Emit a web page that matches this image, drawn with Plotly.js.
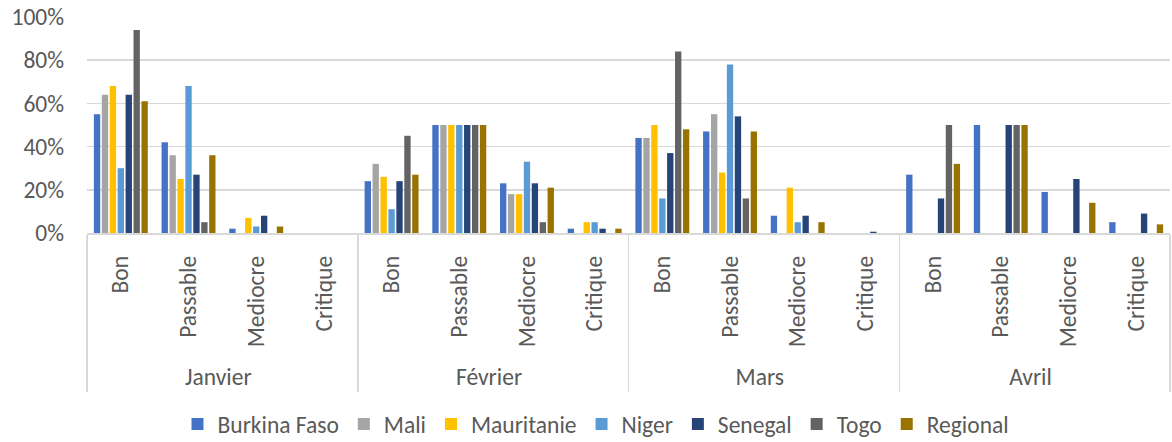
<!DOCTYPE html>
<html>
<head>
<meta charset="utf-8">
<script src="https://cdn.plot.ly/plotly-3.0.1.min.js"></script>
<style>html,body{margin:0;padding:0;background:#fff;}#chart{width:1172px;height:442px;}</style>
</head>
<body>
<div id="chart"></div>
<script>
const months = ["Janvier", "Février", "Mars", "Avril"];
const conditions = ["Bon", "Passable", "Mediocre", "Critique"];
const seriesNames = ["Burkina Faso", "Mali", "Mauritanie", "Niger", "Senegal", "Togo", "Regional"];
const burkinaFaso = [55, 42, 2, 0, 24, 50, 23, 2, 44, 47, 8, 0, 27, 50, 19, 5];
const mali = [64, 36, 0, 0, 32, 50, 18, 0, 44, 55, 0, 0, 0, 0, 0, 0];
const mauritanie = [68, 25, 7, 0, 26, 50, 18, 5, 50, 28, 21, 0, 0, 0, 0, 0];
const niger = [30, 68, 3, 0, 11, 50, 33, 5, 16, 78, 5, 0, 0, 0, 0, 0];
const senegal = [64, 27, 8, 0, 24, 50, 23, 2, 37, 54, 8, 0.6, 16, 50, 25, 9];
const togo = [94, 5, 0, 0, 45, 50, 5, 0, 84, 16, 0, 0, 50, 50, 0, 0];
const regional = [61, 36, 3, 0, 27, 50, 21, 2, 48, 47, 5, 0, 32, 50, 14, 4];
const yTickValues = [0, 20, 40, 60, 80, 100];
const yTickLabels = ["0%", "20%", "40%", "60%", "80%", "100%"];
const colors = ["#4472C4", "#A5A5A5", "#FFC000", "#5B9BD5", "#264478", "#636363", "#997300"];

const allSeries = [burkinaFaso, mali, mauritanie, niger, senegal, togo, regional];
// a leading non-breaking space only extends the rotated label box downward (spacing)
const pad = "\u00a0";
const outer = [], inner = [];
months.forEach(m => conditions.forEach(c => { outer.push(m); inner.push(pad + c); }));

const font = {family: "Carlito, Lato, sans-serif", size: 23.5, color: "#595959"};

const data = allSeries.map((vals, i) => ({
  type: "bar",
  name: seriesNames[i],
  x: [outer, inner],
  y: vals,
  marker: {color: colors[i]},
  hovertemplate: "%{y}%<extra>" + seriesNames[i] + "</extra>"
}));

const layout = {
  width: 1172, height: 442,
  margin: {l: 87, r: 2, t: 17, b: 209, autoexpand: false},
  paper_bgcolor: "#fff", plot_bgcolor: "#fff",
  font: font,
  barmode: "group",
  bargap: 0.18,
  bargroupgap: 0.2,
  showlegend: true,
  legend: {orientation: "h", x: 0.47, xanchor: "center", y: -0.885, yanchor: "middle",
           font: font, itemwidth: 30, traceorder: "normal"},
  xaxis: {
    type: "multicategory",
    automargin: false,
    tickangle: -90,
    showdividers: true,
    dividercolor: "#d9d9d9",
    dividerwidth: 1.5,
    showline: true, linecolor: "#d9d9d9", linewidth: 1.5,
    showgrid: false,
    ticks: "",
    ticklabelstandoff: 12,
    tickfont: font
  },
  yaxis: {
    automargin: false,
    range: [0, 100],
    tickmode: "array",
    tickvals: yTickValues,
    ticktext: yTickLabels,
    showgrid: true, gridcolor: "#d9d9d9", gridwidth: 1.5,
    zeroline: false, showline: false,
    ticks: "",
    ticklabelstandoff: 22,
    tickfont: font
  }
};

Plotly.newPlot("chart", data, layout, {displayModeBar: false, staticPlot: true});
</script>
</body>
</html>
